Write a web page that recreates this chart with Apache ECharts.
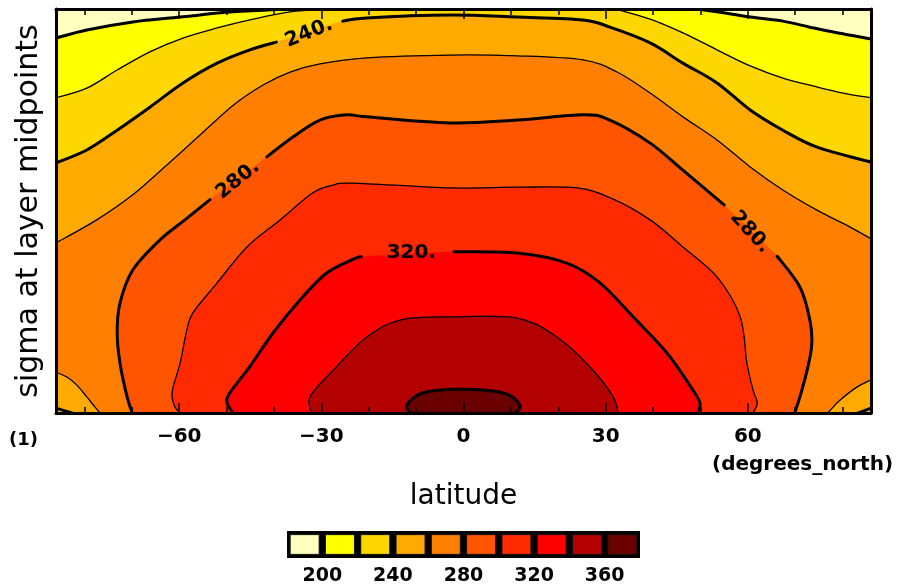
<!DOCTYPE html>
<html lang="en">
<head>
<meta charset="UTF-8">
<title>sigma vs latitude</title>
<script src="https://cdn.jsdelivr.net/npm/echarts@6/dist/echarts.min.js"></script>
<style>
  html, body { margin: 0; padding: 0; background: #fff; }
  #main { width: 898px; height: 586px; }
</style>
</head>
<body>
<div id="main"></div>
<script>
// axis extents (latitude in degrees_north, sigma 0 at top .. 1 at bottom)
var latRange = [-86, 86];
var sigRange = [0, 1];
var latMajor = [-60, -30, 0, 30, 60];
var latMinor = [-80, -70, -50, -40, -20, -10, 10, 20, 40, 50, 70, 80];

// contour levels and the fill colour of the band above each level
var levels = [200, 220, 240, 260, 280, 300, 320, 340, 360];
var bandColors = ['#ffffc0', '#ffff00', '#ffd700', '#ffaa00', '#ff8000',
                  '#ff5500', '#ff2a00', '#ff0000', '#b30000', '#6b0000'];
var thickLevels = [200, 240, 280, 320, 360];

// contour lines, [lat, sigma]
var c200W = [[-86,0.072],[-79.5,0.052],[-69.8,0.032],[-59.8,0.020],[-48.6,0.007],[-36.6,0]];
var c200E = [[49.3,0],[53.5,0.007],[60.5,0.020],[67.4,0.030],[73.1,0.045],[78.8,0.059],[86,0.074]];

var c220W = [[-86,0.220],[-79.5,0.196],[-73.1,0.151],[-66.2,0.106],[-59.2,0.072],[-52.0,0.047],[-45.1,0.027],[-36.6,0.007],[-28.2,0]];
var c220E = [[32.0,0],[39.4,0.025],[46.3,0.059],[53.5,0.101],[60.5,0.141],[67.4,0.171],[74.6,0.193],[80.1,0.208],[86,0.220]];

var c240W = [[-86,0.381],[-79.5,0.349],[-73.1,0.300],[-66.2,0.243],[-59.2,0.183],[-52.0,0.134],[-45.1,0.101],[-39.5,0.082]];
var c240E = [[-25.5,0.030],[-20.4,0.022],[-2.8,0.015],[11.3,0.020],[25.2,0.027],[30.9,0.045],[39.4,0.084],[46.3,0.134],[53.5,0.183],[60.5,0.250],[67.4,0.300],[74.6,0.342],[86,0.379]];
var c240SE = [[86,0.988],[83.3,1]];
var c240SW = [[-82.6,1],[-86,0.988]];

var c260N = [[-86,0.579],[-77.4,0.522],[-69.8,0.460],[-62.6,0.386],[-55.6,0.312],[-48.6,0.238],[-42.3,0.188],[-36.6,0.156],[-30.3,0.136],[-20.4,0.121],[-2.8,0.114],[11.3,0.116],[25.2,0.126],[32.4,0.156],[39.4,0.208],[46.3,0.267],[53.5,0.324],[60.5,0.391],[67.4,0.448],[74.6,0.498],[81.6,0.540],[86,0.569]];
var c260SE = [[86,0.918],[83.0,0.936],[79.5,0.968],[77.4,0.993],[76.7,1]];
var c260SW = [[-76.7,1],[-77.8,0.985],[-79.5,0.960],[-81.6,0.931],[-83.7,0.911],[-86,0.899]];

var c280W = [[-69.9,1],[-71.0,0.960],[-72.5,0.876],[-73.1,0.802],[-72.5,0.728],[-69.8,0.646],[-64.1,0.572],[-58.8,0.522],[-53.5,0.472]];
var c280C = [[-41.5,0.366],[-36.0,0.317],[-30.3,0.275],[-24.6,0.262],[-20.4,0.267],[-2.8,0.282],[11.3,0.275],[25.2,0.262],[30.9,0.275],[39.4,0.332],[46.3,0.399],[55.0,0.485]];
var c280E = [[66.2,0.612],[71.0,0.688],[73.1,0.770],[73.5,0.830],[72.6,0.890],[71.0,0.960],[69.9,1]];

var c300 = [[-59.8,1],[-60.9,0.985],[-61.5,0.960],[-61.3,0.936],[-59.8,0.876],[-58.4,0.795],[-57.1,0.752],[-52.0,0.678],[-45.7,0.589],[-38.7,0.522],[-31.8,0.455],[-27.5,0.436],[-23.3,0.431],[-2.8,0.443],[11.3,0.441],[24.0,0.443],[31.5,0.470],[39.4,0.522],[46.3,0.589],[53.5,0.663],[58.4,0.762],[59.8,0.876],[61.1,0.943],[62.0,0.975],[61.1,1]];

var c320W = [[-48.6,1],[-49.9,0.975],[-49.3,0.950],[-45.1,0.885],[-40.2,0.802],[-34.5,0.720],[-28.8,0.653],[-23.0,0.618],[-21.6,0.613]];
var c320E = [[-2.0,0.601],[11.3,0.604],[21.8,0.629],[28.8,0.678],[35.8,0.762],[42.9,0.851],[48.4,0.943],[49.9,0.975],[49.5,1]];

var c340 = [[-32.0,1],[-32.4,0.960],[-27.5,0.894],[-20.4,0.812],[-13.4,0.770],[-2.8,0.762],[11.3,0.765],[19.7,0.812],[26.7,0.886],[31.6,0.960],[32.6,1]];

var c360 = [[-11.3,1],[-11.9,0.980],[-8.5,0.950],[-0.7,0.941],[8.3,0.950],[11.9,0.980],[10.9,1]];

// segments of each level, in ring order
var contourSegs = {
  200: [c200W, c200E],
  220: [c220W, c220E],
  240: [c240W, c240E, c240SE, c240SW],
  260: [c260N, c260SE, c260SW],
  280: [c280W, c280C, c280E],
  300: [c300],
  320: [c320W, c320E],
  340: [c340],
  360: [c360]
};

// inline contour labels: text, lat, sigma, angle (deg)
var labelText = ['240.', '280.', '280.', '320.'];
var labelLat = [-32.6, -47.6, 60.5, -11.0];
var labelSig = [0.059, 0.423, 0.552, 0.604];
var labelAngle = [22, 39, -48, 0];

// colour key
var keyTicks = [200, 240, 280, 320, 360];
var keyBoxes = ['<200', '200-220', '220-240', '240-260', '260-280', '280-300', '300-320', '320-340', '340-360', '>360'];

var FONT = 'DejaVu Sans';

// smooth path through a run of pixel points (Catmull-Rom as cubic Bezier)
function smoothCmds(p, start) {
  var f = function (v) { return v.toFixed(2); };
  var d = (start ? 'M' : 'L') + f(p[0][0]) + ' ' + f(p[0][1]);
  for (var i = 0; i < p.length - 1; i++) {
    var p0 = p[Math.max(i - 1, 0)], p1 = p[i], p2 = p[i + 1], p3 = p[Math.min(i + 2, p.length - 1)];
    var c1x = p1[0] + (p2[0] - p0[0]) / 6, c1y = p1[1] + (p2[1] - p0[1]) / 6;
    var c2x = p2[0] - (p3[0] - p1[0]) / 6, c2y = p2[1] - (p3[1] - p1[1]) / 6;
    d += 'C' + f(c1x) + ' ' + f(c1y) + ' ' + f(c2x) + ' ' + f(c2y) + ' ' + f(p2[0]) + ' ' + f(p2[1]);
  }
  return d;
}

var chart = echarts.init(document.getElementById('main'), null, { renderer: 'canvas' });

function xTickAxis(pos, vals, len, showLine, showLabel) {
  return {
    type: 'value', gridIndex: 0, position: pos, min: latRange[0], max: latRange[1],
    z: 6,
    axisLine: { show: showLine, onZero: false, lineStyle: { color: '#000', width: 3 } },
    axisTick: { show: true, inside: true, length: len, customValues: vals, lineStyle: { color: '#000', width: 1.5 } },
    axisLabel: showLabel ? {
      show: true, customValues: vals, color: '#000', fontFamily: FONT, fontWeight: 'bold',
      fontSize: 20, margin: 14,
      formatter: function (v) { return v < 0 ? '\u2212' + Math.abs(v) : String(v); }
    } : { show: false },
    splitLine: { show: false }
  };
}

var xAxes = [
  xTickAxis('bottom', latMajor, 10, true, true),
  xTickAxis('bottom', latMinor, 6, false, false),
  xTickAxis('top', latMajor, 10, true, false),
  xTickAxis('top', latMinor, 6, false, false)
];
xAxes[0].name = 'latitude';
xAxes[0].nameLocation = 'middle';
xAxes[0].nameGap = 70;
xAxes[0].nameTextStyle = { color: '#000', fontFamily: FONT, fontSize: 28 };

// colour key axes
xAxes.push({
  type: 'category', gridIndex: 1, data: keyBoxes,
  axisLine: { show: false }, axisTick: { show: false }, axisLabel: { show: false }
});
xAxes.push({
  type: 'value', gridIndex: 1, min: 180, max: 380, position: 'bottom',
  axisLine: { show: false }, axisTick: { show: false }, splitLine: { show: false },
  axisLabel: { show: true, customValues: keyTicks, color: '#000', fontFamily: FONT,
    fontWeight: 'bold', fontSize: 19, margin: 9 }
});

function yFrame(pos) {
  return {
    type: 'value', gridIndex: 0, min: sigRange[0], max: sigRange[1], inverse: true, position: pos, z: 6,
    axisLine: { show: true, onZero: false, lineStyle: { color: '#000', width: 3 } },
    axisTick: { show: false }, axisLabel: { show: false }, splitLine: { show: false }
  };
}
var yLeft = yFrame('left');
yLeft.name = 'sigma at layer midpoints';
yLeft.nameLocation = 'middle';
yLeft.nameGap = 12;
yLeft.nameRotate = 90;
yLeft.nameTextStyle = { color: '#000', fontFamily: FONT, fontSize: 30 };

chart.setOption({
  animation: false,
  backgroundColor: '#fff',
  grid: [
    { left: 56, top: 9, width: 815, height: 404, show: true, backgroundColor: bandColors[0], borderWidth: 0 },
    { left: 287, top: 531, width: 353, height: 27, show: true, backgroundColor: '#000', borderWidth: 0 }
  ],
  xAxis: xAxes,
  yAxis: [
    yLeft,
    yFrame('right'),
    { type: 'value', gridIndex: 1, min: -0.15, max: 1.15, show: false }
  ],
  graphic: [
    { type: 'text', left: 9, top: 431, style: { text: '(1)', fill: '#000', font: 'bold 18px "DejaVu Sans"' } },
    { type: 'text', left: 712, top: 455, style: { text: '(degrees_north)', fill: '#000', font: 'bold 20px "DejaVu Sans"' } }
  ],
  series: [
    {
      // filled bands: region above each level painted in order
      type: 'custom', xAxisIndex: 0, yAxisIndex: 0, z: 1, clip: true, silent: true,
      data: levels.map(function (lv) { return [0, 0.5, lv]; }),
      renderItem: function (params, api) {
        var lv = levels[params.dataIndex];
        var segs = contourSegs[lv];
        var d = '';
        segs.forEach(function (s, k) {
          d += smoothCmds(s.map(function (p) { return api.coord(p); }), k === 0);
        });
        var first = segs[0][0], lastSeg = segs[segs.length - 1], last = lastSeg[lastSeg.length - 1];
        if (first[0] === latRange[0] && last[0] === latRange[1]) {
          var br = api.coord([latRange[1], sigRange[1]]), bl = api.coord([latRange[0], sigRange[1]]);
          d += 'L' + br[0] + ' ' + br[1] + 'L' + bl[0] + ' ' + bl[1];
        }
        d += 'Z';
        var col = bandColors[params.dataIndex + 1];
        return { type: 'path', shape: { pathData: d }, style: { fill: col, stroke: col, lineWidth: 0.5 } };
      }
    },
    {
      // contour lines
      type: 'custom', xAxisIndex: 0, yAxisIndex: 0, z: 2, clip: true, silent: true,
      data: levels.map(function (lv) { return [0, 0.5, lv]; }),
      renderItem: function (params, api) {
        var lv = levels[params.dataIndex];
        var thick = thickLevels.indexOf(lv) >= 0;
        var d = '';
        contourSegs[lv].forEach(function (s) {
          d += smoothCmds(s.map(function (p) { return api.coord(p); }), true);
        });
        return {
          type: 'path', shape: { pathData: d },
          style: { stroke: '#000', fill: null, lineWidth: thick ? 3 : 1.3, lineJoin: 'round', lineCap: 'round' }
        };
      }
    },
    {
      // contour labels
      type: 'custom', xAxisIndex: 0, yAxisIndex: 0, z: 3, silent: true,
      data: labelText.map(function (t, i) { return [labelLat[i], labelSig[i]]; }),
      renderItem: function (params, api) {
        var i = params.dataIndex;
        var c = api.coord([labelLat[i], labelSig[i]]);
        return {
          type: 'text', x: c[0], y: c[1], rotation: labelAngle[i] * Math.PI / 180,
          style: { text: labelText[i], fill: '#000', align: 'center', verticalAlign: 'middle',
            font: 'bold 20px "DejaVu Sans"' }
        };
      }
    },
    {
      // colour key boxes
      type: 'bar', xAxisIndex: 4, yAxisIndex: 2, barWidth: 30, silent: true,
      data: keyBoxes.map(function (k, i) {
        return { value: 1, itemStyle: { color: bandColors[i], borderColor: '#111', borderWidth: 1 } };
      })
    }
  ]
});
</script>
</body>
</html>
